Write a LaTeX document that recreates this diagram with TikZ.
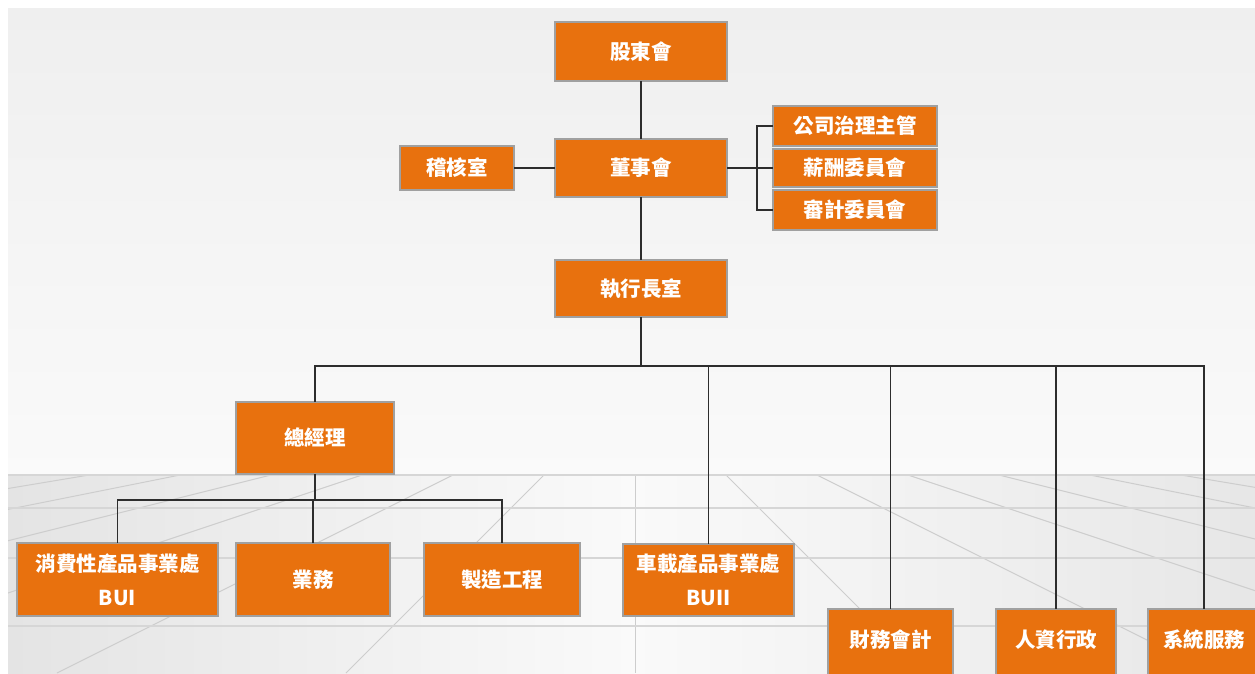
\documentclass[tikz,border=0pt]{standalone}
\usepackage{fontspec}
\newfontfamily\cjk{Noto Sans CJK TC}
\definecolor{boxorange}{RGB}{232,113,14}
\definecolor{boxline}{RGB}{160,160,160}
\definecolor{linkc}{RGB}{45,45,45}
\definecolor{gridc}{RGB}{205,205,205}
\definecolor{hgridc}{RGB}{214,214,214}
\definecolor{topbg}{RGB}{239,239,239}
\definecolor{floorside}{RGB}{228,228,228}
\begin{document}
\begin{tikzpicture}[x=1pt,y=-1pt,
  box/.style={draw=boxline, line width=1.2pt, fill=boxorange, text=white,
    font=\cjk\bfseries\fontsize{20.5}{34}\selectfont, inner sep=0pt, outer sep=0pt,
    anchor=north west, align=center},
  link/.style={draw=linkc, line width=1.1pt}]
\useasboundingbox (0,0) rectangle (1255,673);
% background
\fill[white] (0,0) rectangle (1255,673);
\shade[top color=topbg, bottom color=white!98!black] (8,8) rectangle (1255,474);
\shade[left color=floorside, right color=floorside!90!white, middle color=white!98!black] (8,474) rectangle (1255,673);
\begin{scope}
  \clip (8,474) rectangle (1255,673);
  \foreach \k in {-10,...,10} \draw[gridc, line width=1pt] (635+91*\k,475) -- (635+289*\k,673);
  \foreach \yy in {475,508,558,626} \draw[hgridc, line width=2pt] (8,\yy) -- (1255,\yy);
\end{scope}
% boxes
\node[box, minimum width=172pt, minimum height=59pt] (gs) at (555,22) {股東會};
\node[box, minimum width=172pt, minimum height=58pt] (ds) at (555,139) {董事會};
\node[box, minimum width=164pt, minimum height=40pt] (cg) at (773,106) {公司治理主管};
\node[box, minimum width=164pt, minimum height=38pt] (rc) at (773,149) {薪酬委員會};
\node[box, minimum width=164pt, minimum height=40pt] (ac) at (773,190) {審計委員會};
\node[box, minimum width=114pt, minimum height=44pt] (audit) at (400,146) {稽核室};
\node[box, minimum width=172pt, minimum height=57pt] (ceo) at (555,260) {執行長室};
\node[box, minimum width=158pt, minimum height=72pt] (gm) at (236,402) {總經理};
\node[box, minimum width=201pt, minimum height=73pt] (cp) at (17,543) {消費性產品事業處\\BUI};
\node[box, minimum width=154pt, minimum height=73pt] (biz) at (236,543) {業務};
\node[box, minimum width=156pt, minimum height=73pt] (mfg) at (424,543) {製造工程};
\node[box, minimum width=171pt, minimum height=72pt] (bu2) at (623,544) {車載產品事業處\\BUII};
\node[box, minimum width=125pt, minimum height=62pt] (fin) at (828,609) {財務會計};
\node[box, minimum width=120pt, minimum height=62pt] (hr) at (996,609) {人資行政};
\node[box, minimum width=112pt, minimum height=62pt] (sys) at (1148,609) {系統服務};
\fill[boxorange] (829,660) rectangle (952,674);
\fill[boxorange] (997,660) rectangle (1115,674);
\fill[boxorange] (1149,660) rectangle (1256,674);
\draw[boxline, line width=1.2pt] (828,665) -- (828,674) (953,665) -- (953,674) (996,665) -- (996,674) (1116,665) -- (1116,674) (1148,665) -- (1148,674);
% connectors
\coordinate (br) at (757,168);
\coordinate (bus) at (641,366);
\coordinate (gbus) at (315,500);
\draw[link] (gs.south) -- (ds.north);
\draw[link] (ds.south) -- (ceo.north);
\draw[link] (audit.east) -- (audit.east -| ds.west);
\draw[link] (ds.east) -- (br);
\draw[link] (cg.west) -| (br) |- (ac.west);
\draw[link] (rc.west) -- (rc.west -| br);
\draw[link] (ceo.south) -- (bus);
\draw[link] (gm.north) |- (bus) -| (sys.north);
\draw[link] (bu2.north) -- (bu2.north |- bus);
\draw[link] (fin.north) -- (fin.north |- bus);
\draw[link] (hr.north) -- (hr.north |- bus);
\draw[link] (gm.south) -- (gbus);
\draw[link] (cp.north) |- (gbus) -| (mfg.north);
\draw[link] (biz.north) -- (biz.north |- gbus);
\end{tikzpicture}
\end{document}
